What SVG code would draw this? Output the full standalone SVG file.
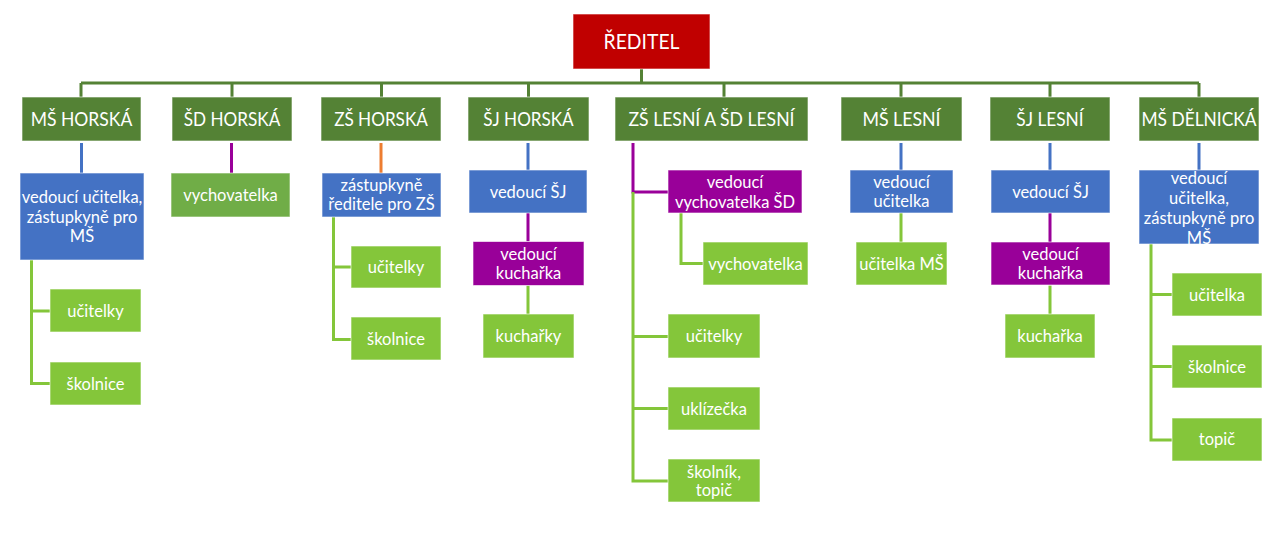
<svg xmlns="http://www.w3.org/2000/svg" width="1262" height="533" viewBox="0 0 1262 533">
<style>
text{font-family:Lato,"Liberation Sans",sans-serif;fill:#fff;text-anchor:middle}
.t0{font-size:22px}
.t1{font-size:18.5px}
.t2{font-size:16.5px}
rect{stroke:#fff;stroke-width:1;stroke-opacity:0.6}
.red{fill:#C00000}
.dg{fill:#548235}
.bl{fill:#4472C4}
.mg{fill:#70AD47}
.lg{fill:#84C63A}
.pu{fill:#990099}
.c{fill:none;stroke-width:3}
.cdg{stroke:#548235}
.cbl{stroke:#4472C4}
.cpu{stroke:#990099}
.cor{stroke:#ED7D31}
.clg{stroke:#84C63A}
</style>
<rect width="1262" height="533" fill="#fff" stroke="none"/>
<g id="connectors">
<path class="c cdg" d="M641.5,69V83M81,83H1199M81,83V97M232,83V97M381.5,83V97M528.5,83V97M724,83V97M901,83V97M1050,83V97M1199,83V97"/>
<path class="c cbl" d="M81.5,143V173M528,143V170M901,143V170M1050,143V170M1199,143V170"/>
<path class="c cpu" d="M231.5,143V173M633,143V192H668M528,213V241.5M1050,213V242"/>
<path class="c cor" d="M381,143V173"/>
<path class="c clg" d="M31.5,260V383.5H50M31.5,311H50M333.5,217V339.5H351M333.5,267H351M528,285.5V314M681,213V263.5H703M633,192V481H668M633,336.5H668M633,408.5H668M901,213V242M1050,285.5V314M1151,244V440H1172M1151,294.5H1172M1151,366.5H1172"/>
</g>
<g id="reditel"><rect class="red" x="573" y="14" width="137" height="55"/><text class="t0" x="641.5" y="49" textLength="76" lengthAdjust="spacingAndGlyphs">ŘEDITEL</text></g>
<g id="ms-horska"><rect class="dg" x="22" y="97" width="119" height="44"/><text class="t1" x="81.5" y="126" textLength="101.5" lengthAdjust="spacingAndGlyphs">MŠ HORSKÁ</text></g>
<g id="sd-horska"><rect class="dg" x="172" y="97" width="120" height="44"/><text class="t1" x="232" y="126" textLength="96.5" lengthAdjust="spacingAndGlyphs">ŠD HORSKÁ</text></g>
<g id="zs-horska"><rect class="dg" x="321" y="97" width="120" height="44"/><text class="t1" x="381" y="126" textLength="93.7" lengthAdjust="spacingAndGlyphs">ZŠ HORSKÁ</text></g>
<g id="sj-horska"><rect class="dg" x="468" y="97" width="121" height="44"/><text class="t1" x="528.5" y="126" textLength="90.4" lengthAdjust="spacingAndGlyphs">ŠJ HORSKÁ</text></g>
<g id="zs-lesni"><rect class="dg" x="615" y="97" width="193" height="44"/><text class="t1" x="711.5" y="126" textLength="166" lengthAdjust="spacingAndGlyphs">ZŠ LESNÍ A ŠD LESNÍ</text></g>
<g id="ms-lesni"><rect class="dg" x="841" y="97" width="121" height="44"/><text class="t1" x="901.5" y="126" textLength="78.2" lengthAdjust="spacingAndGlyphs">MŠ LESNÍ</text></g>
<g id="sj-lesni"><rect class="dg" x="990" y="97" width="120" height="44"/><text class="t1" x="1050" y="126" textLength="67.3" lengthAdjust="spacingAndGlyphs">ŠJ LESNÍ</text></g>
<g id="ms-delnicka"><rect class="dg" x="1139" y="97" width="120" height="44"/><text class="t1" x="1199" y="126" textLength="115" lengthAdjust="spacingAndGlyphs">MŠ DĚLNICKÁ</text></g>
<g id="msh-vedouci"><rect class="bl" x="20" y="173" width="124" height="87"/><text class="t2" x="82" y="203">vedoucí učitelka,</text><text class="t2" x="82" y="222.5">zástupkyně pro</text><text class="t2" x="82" y="242">MŠ</text></g>
<g id="sdh-vychovatelka"><rect class="mg" x="171" y="173" width="119" height="44"/><text class="t2" x="230.5" y="201">vychovatelka</text></g>
<g id="zsh-zastupkyne"><rect class="bl" x="322" y="173" width="119" height="44"/><text class="t2" x="381.5" y="191">zástupkyně</text><text class="t2" x="381.5" y="210">ředitele pro ZŠ</text></g>
<g id="sjh-vedouci"><rect class="bl" x="469" y="170" width="118" height="43"/><text class="t2" x="528" y="197.5">vedoucí ŠJ</text></g>
<g id="zsl-vedouci-vych"><rect class="pu" x="668" y="170" width="134" height="43"/><text class="t2" x="735" y="187.5">vedoucí</text><text class="t2" x="735" y="207.5">vychovatelka ŠD</text></g>
<g id="msl-vedouci"><rect class="bl" x="850" y="170" width="103" height="43"/><text class="t2" x="901.5" y="187.5">vedoucí</text><text class="t2" x="901.5" y="207">učitelka</text></g>
<g id="sjl-vedouci"><rect class="bl" x="991" y="170" width="119" height="43"/><text class="t2" x="1050.5" y="197.5">vedoucí ŠJ</text></g>
<g id="msd-vedouci"><rect class="bl" x="1139" y="170" width="120" height="74"/><text class="t2" x="1199" y="184">vedoucí</text><text class="t2" x="1199" y="204">učitelka,</text><text class="t2" x="1199" y="223.5">zástupkyně pro</text><text class="t2" x="1199" y="243.5">MŠ</text></g>
<g id="msh-ucitelky"><rect class="lg" x="50" y="289" width="91" height="43"/><text class="t2" x="95.5" y="316.5">učitelky</text></g>
<g id="msh-skolnice"><rect class="lg" x="50" y="362" width="91" height="43"/><text class="t2" x="95.5" y="389.5">školnice</text></g>
<g id="zsh-ucitelky"><rect class="lg" x="351" y="246" width="90" height="42"/><text class="t2" x="396" y="273">učitelky</text></g>
<g id="zsh-skolnice"><rect class="lg" x="351" y="317" width="90" height="43"/><text class="t2" x="396" y="345">školnice</text></g>
<g id="sjh-ved-kucharka"><rect class="pu" x="473" y="241.5" width="111" height="44"/><text class="t2" x="528.5" y="260">vedoucí</text><text class="t2" x="528.5" y="279">kuchařka</text></g>
<g id="sjh-kucharky"><rect class="lg" x="483" y="314" width="91" height="44"/><text class="t2" x="528.5" y="342">kuchařky</text></g>
<g id="zsl-vychovatelka"><rect class="lg" x="703" y="242" width="105" height="43"/><text class="t2" x="755.5" y="269.5">vychovatelka</text></g>
<g id="zsl-ucitelky"><rect class="lg" x="668" y="314" width="92" height="44"/><text class="t2" x="714" y="342">učitelky</text></g>
<g id="zsl-uklizecka"><rect class="lg" x="668" y="387" width="92" height="43"/><text class="t2" x="714" y="414.5">uklízečka</text></g>
<g id="zsl-skolnik"><rect class="lg" x="668" y="459" width="92" height="43"/><text class="t2" x="714" y="477.5">školník,</text><text class="t2" x="714" y="496">topič</text></g>
<g id="msl-ucitelka"><rect class="lg" x="856" y="242" width="91" height="43"/><text class="t2" x="901.5" y="269.5">učitelka MŠ</text></g>
<g id="sjl-ved-kucharka"><rect class="pu" x="991" y="242" width="119" height="43"/><text class="t2" x="1050.5" y="260">vedoucí</text><text class="t2" x="1050.5" y="279">kuchařka</text></g>
<g id="sjl-kucharka"><rect class="lg" x="1005" y="314" width="90" height="44"/><text class="t2" x="1050" y="342">kuchařka</text></g>
<g id="msd-ucitelka"><rect class="lg" x="1172" y="273" width="90" height="43"/><text class="t2" x="1217" y="300.5">učitelka</text></g>
<g id="msd-skolnice"><rect class="lg" x="1172" y="345" width="90" height="43"/><text class="t2" x="1217" y="372.5">školnice</text></g>
<g id="msd-topic"><rect class="lg" x="1172" y="418" width="90" height="43"/><text class="t2" x="1217" y="445">topič</text></g>
</svg>
